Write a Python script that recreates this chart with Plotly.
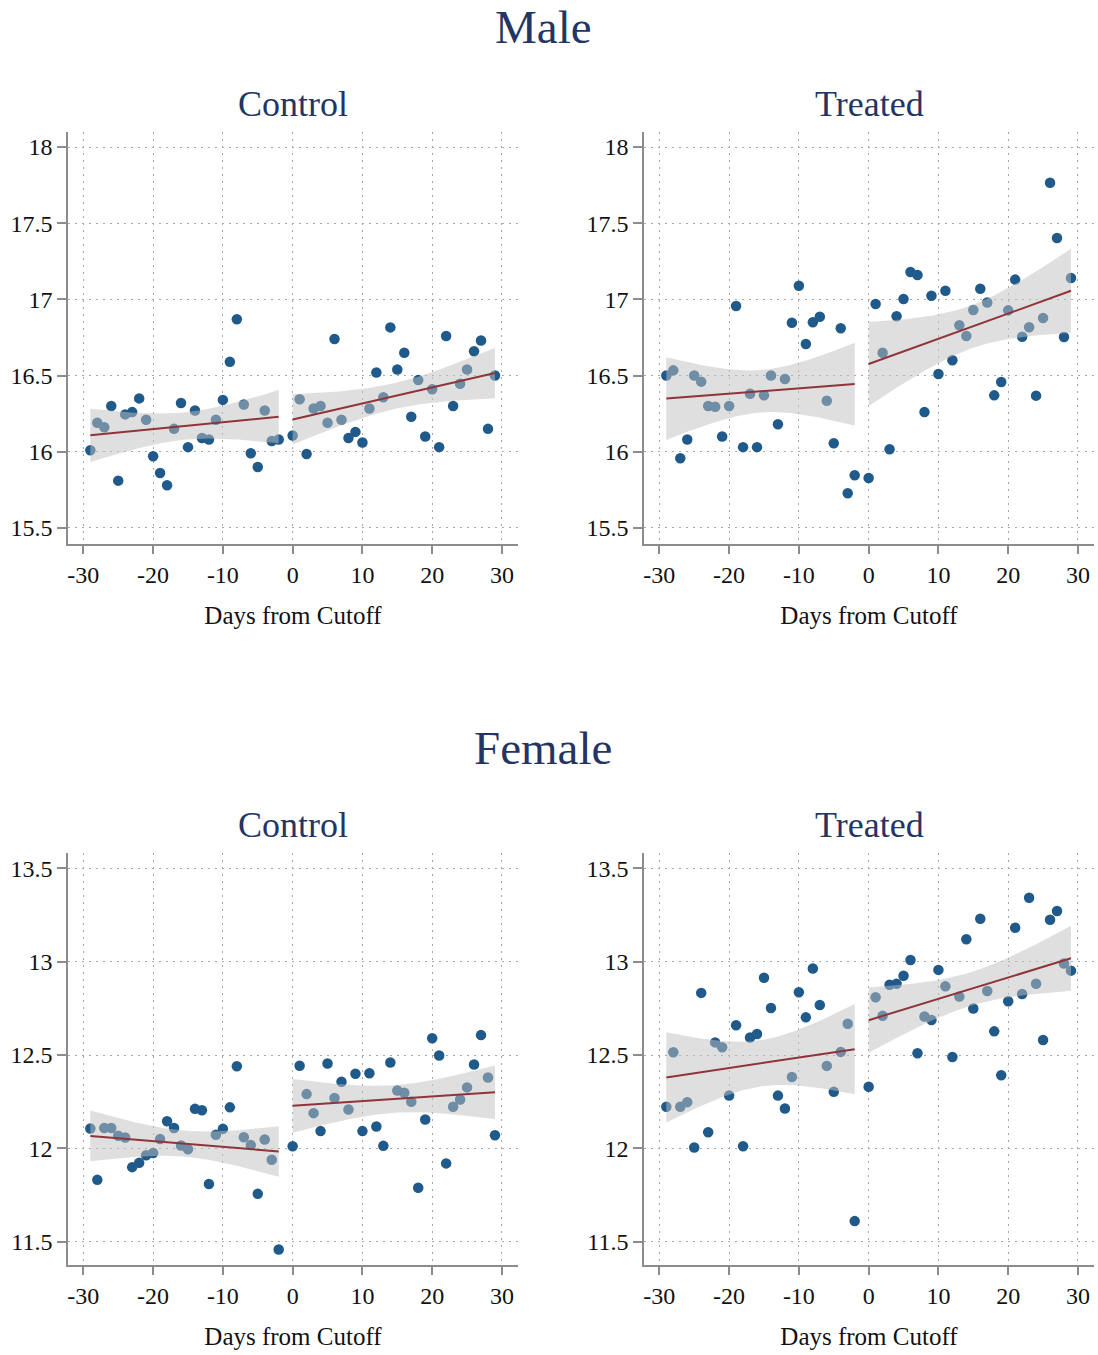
import numpy as np
import plotly.graph_objects as go

# ---- data: daily averages around the cutoff ----
days_pre = [-29, -28, -27, -26, -25, -24, -23, -22, -21, -20, -19, -18, -17, -16,
            -15, -14, -13, -12, -11, -10, -9, -8, -7, -6, -5, -4, -3, -2]
days_post = [0, 1, 2, 3, 4, 5, 6, 7, 8, 9, 10, 11, 12, 13, 14,
             15, 16, 17, 18, 19, 20, 21, 22, 23, 24, 25, 26, 27, 28, 29]

male_control_pre = [16.01, 16.19, 16.16, 16.30, 15.81, 16.245, 16.26, 16.35, 16.21, 15.97,
                    15.86, 15.78, 16.15, 16.32, 16.03, 16.27, 16.09, 16.08, 16.21, 16.34,
                    16.59, 16.87, 16.31, 15.99, 15.90, 16.27, 16.07, 16.08]
male_control_post = [16.106, 16.344, 15.985, 16.284, 16.30, 16.19, 16.74, 16.21, 16.09, 16.13,
                     16.06, 16.284, 16.52, 16.357, 16.816, 16.54, 16.65, 16.23, 16.47, 16.10,
                     16.41, 16.03, 16.76, 16.30, 16.446, 16.54, 16.66, 16.73, 16.15, 16.50]

male_treated_pre = [16.50, 16.534, 15.957, 16.08, 16.50, 16.46, 16.30, 16.295, 16.10, 16.30,
                    16.957, 16.03, 16.38, 16.03, 16.37, 16.50, 16.18, 16.477, 16.847, 17.09,
                    16.707, 16.85, 16.886, 16.335, 16.055, 16.81, 15.727, 15.845]
male_treated_post = [15.827, 16.97, 16.65, 16.016, 16.889, 17.003, 17.18, 17.16, 16.26, 17.024,
                     16.51, 17.057, 16.60, 16.83, 16.76, 16.93, 17.07, 16.98, 16.37, 16.458,
                     16.928, 17.13, 16.755, 16.817, 16.368, 16.878, 17.766, 17.403, 16.753, 17.14]

female_control_pre = [12.107, 11.832, 12.11, 12.11, 12.068, 12.059, 11.90, 11.923, 11.964, 11.976,
                      12.05, 12.146, 12.11, 12.016, 11.996, 12.212, 12.205, 11.81, 12.073, 12.105,
                      12.22, 12.44, 12.06, 12.018, 11.757, 12.048, 11.94, 11.459]
female_control_post = [12.012, 12.443, 12.291, 12.189, 12.093, 12.455, 12.27, 12.357, 12.209, 12.40,
                       12.093, 12.403, 12.118, 12.014, 12.46, 12.31, 12.298, 12.25, 11.79, 12.155,
                       12.59, 12.498, 11.92, 12.223, 12.262, 12.327, 12.45, 12.607, 12.38, 12.071]

female_treated_pre = [12.223, 12.515, 12.223, 12.248, 12.005, 12.833, 12.087, 12.568, 12.542, 12.283,
                      12.66, 12.012, 12.594, 12.613, 12.914, 12.752, 12.283, 12.214, 12.383, 12.836,
                      12.702, 12.964, 12.768, 12.442, 12.303, 12.517, 12.668, 11.611]
female_treated_post = [12.33, 12.81, 12.71, 12.877, 12.882, 12.925, 13.009, 12.51, 12.707, 12.688,
                       12.956, 12.868, 12.49, 12.813, 13.12, 12.749, 13.23, 12.843, 12.627, 12.392,
                       12.788, 13.182, 12.827, 13.342, 12.882, 12.581, 13.225, 13.271, 12.99, 12.952]

x_tickvals = [-30, -20, -10, 0, 10, 20, 30]
x_ticktext = ["-30", "-20", "-10", "0", "10", "20", "30"]
male_yticks = [15.5, 16, 16.5, 17, 17.5, 18]
male_yticktext = ["15.5", "16", "16.5", "17", "17.5", "18"]
female_yticks = [11.5, 12, 12.5, 13, 13.5]
female_yticktext = ["11.5", "12", "12.5", "13", "13.5"]

# ---- styling ----
W, H = 1098, 1355
FONT = "Liberation Serif"
NAVY = "#243463"
DOT = "#1f5a8a"
FIT = "#8f343b"
BAND = "rgba(192,192,192,0.5)"
AXIS = "#8c8c8c"
GRID = "#a8a8a8"


def t975(df):
    # Cornish-Fisher expansion of the 97.5% Student-t quantile
    z = 1.959964
    g1 = (z ** 3 + z) / 4
    g2 = (5 * z ** 5 + 16 * z ** 3 + 3 * z) / 96
    g3 = (3 * z ** 7 + 19 * z ** 5 + 17 * z ** 3 - 15 * z) / 384
    return z + g1 / df + g2 / df ** 2 + g3 / df ** 3


def linear_fit_ci(x, y, n_grid=80):
    x = np.asarray(x, float)
    y = np.asarray(y, float)
    n = len(x)
    b, a = np.polyfit(x, y, 1)
    resid = y - (a + b * x)
    s = np.sqrt(np.sum(resid ** 2) / (n - 2))
    xm = x.mean()
    sxx = np.sum((x - xm) ** 2)
    g = np.linspace(x.min(), x.max(), n_grid)
    fit = a + b * g
    se = s * np.sqrt(1 / n + (g - xm) ** 2 / sxx)
    t = t975(n - 2)
    return g, fit, fit - t * se, fit + t * se


fig = go.Figure()

panels = [
    (1, male_control_pre, male_control_post),
    (2, male_treated_pre, male_treated_post),
    (3, female_control_pre, female_control_post),
    (4, female_treated_pre, female_treated_post),
]

for idx, pre, post in panels:
    xa = "x" if idx == 1 else f"x{idx}"
    ya = "y" if idx == 1 else f"y{idx}"
    # scatter points first so the confidence band washes over them
    for dx, dy in ((days_pre, pre), (days_post, post)):
        fig.add_trace(go.Scatter(
            x=dx, y=dy, mode="markers", xaxis=xa, yaxis=ya,
            marker=dict(color=DOT, size=10.5, line=dict(width=0)),
            showlegend=False, hoverinfo="x+y"))
    for dx, dy in ((days_pre, pre), (days_post, post)):
        g, fit, lo, hi = linear_fit_ci(dx, dy)
        fig.add_trace(go.Scatter(
            x=np.concatenate([g, g[::-1]]), y=np.concatenate([hi, lo[::-1]]),
            mode="lines", fill="toself", fillcolor=BAND, line=dict(width=0),
            xaxis=xa, yaxis=ya, showlegend=False, hoverinfo="skip"))
        fig.add_trace(go.Scatter(
            x=g, y=fit, mode="lines", line=dict(color=FIT, width=2),
            xaxis=xa, yaxis=ya, showlegend=False, hoverinfo="skip"))


def px_x(p):
    return p / W


def px_y(p):
    return 1 - p / H


xdom_left = [px_x(68), px_x(518)]
xdom_right = [px_x(644), px_x(1094)]
ydom_top = [px_y(544), px_y(132)]
ydom_bot = [px_y(1265), px_y(853)]

common_x = dict(
    range=[-32.2, 32.3], tickvals=x_tickvals, ticktext=x_ticktext,
    showline=True, linecolor=AXIS, linewidth=1.5,
    ticks="outside", ticklen=8, tickwidth=1.5, tickcolor=AXIS,
    showgrid=True, gridcolor=GRID, gridwidth=1, griddash="2px,5px",
    zeroline=False, automargin=False,
    tickfont=dict(family=FONT, size=24, color="#111111"),
    title=dict(text="Days from Cutoff", standoff=20,
               font=dict(family=FONT, size=25, color="#111111")),
)
common_y = dict(
    showline=True, linecolor=AXIS, linewidth=1.5,
    ticks="outside", ticklen=9, tickwidth=1.5, tickcolor=AXIS,
    showgrid=True, gridcolor=GRID, gridwidth=1, griddash="2px,5px",
    zeroline=False, automargin=False,
    tickfont=dict(family=FONT, size=24, color="#111111"),
)

fig.update_layout(
    width=W, height=H,
    margin=dict(l=0, r=0, t=0, b=0),
    paper_bgcolor="white", plot_bgcolor="white",
    font=dict(family=FONT),
    xaxis=dict(domain=xdom_left, anchor="y", **common_x),
    yaxis=dict(domain=ydom_top, anchor="x", range=[15.394, 18.099],
               tickvals=male_yticks, ticktext=male_yticktext, **common_y),
    xaxis2=dict(domain=xdom_right, anchor="y2", **common_x),
    yaxis2=dict(domain=ydom_top, anchor="x2", range=[15.394, 18.099],
                tickvals=male_yticks, ticktext=male_yticktext, **common_y),
    xaxis3=dict(domain=xdom_left, anchor="y3", **common_x),
    yaxis3=dict(domain=ydom_bot, anchor="x3", range=[11.376, 13.582],
                tickvals=female_yticks, ticktext=female_yticktext, **common_y),
    xaxis4=dict(domain=xdom_right, anchor="y4", **common_x),
    yaxis4=dict(domain=ydom_bot, anchor="x4", range=[11.376, 13.582],
                tickvals=female_yticks, ticktext=female_yticktext, **common_y),
)

titles = [
    ("Male", 543, 27, 47),
    ("Control", 293, 104, 36),
    ("Treated", 869, 104, 36),
    ("Female", 543, 748, 47),
    ("Control", 293, 825, 36),
    ("Treated", 869, 825, 36),
]
for text, cx, cy, size in titles:
    fig.add_annotation(
        text=text, x=px_x(cx), y=px_y(cy), xref="paper", yref="paper",
        xanchor="center", yanchor="middle", showarrow=False,
        font=dict(family=FONT, size=size, color=NAVY))

fig.write_html("out.html")
